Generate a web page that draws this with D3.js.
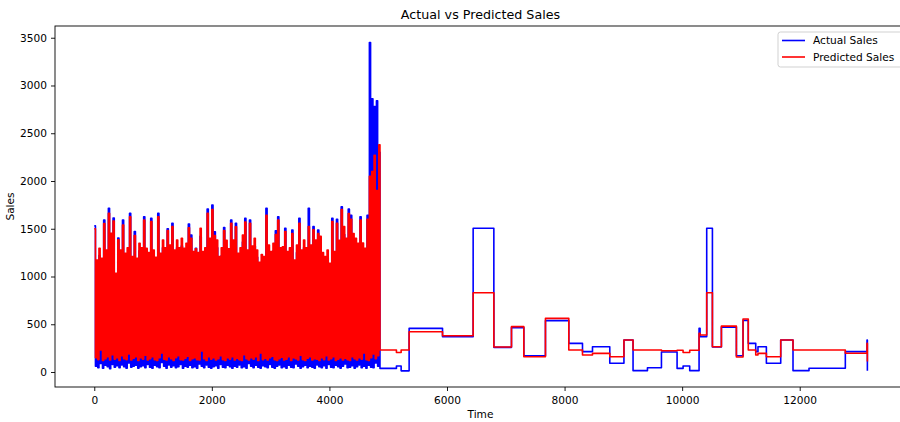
<!DOCTYPE html>
<html lang="en">
<head>
	<meta charset="UTF-8"/>
	<title>Actual vs Predicted Sales</title>
	<script src="https://d3js.org/d3.v7.min.js"></script>
	<style>
		body { margin: 0; background: #fff; }
		svg { display: block; font-family: "DejaVu Sans", sans-serif; }
	</style>
</head>
<body>
<script>
	var w = 900;
	var h = 422;
	var axLeft = 55, axTop = 26, axRight = 906, axBottom = 387;

	// daily part (0 - 4860): values are read as peak / trough per 40-day bin
	var binDays = 40;
	var predHigh = [
		1500,1173,1295,1190,1555,1277,1662,1452,1580,1033,
		1385,1277,1540,1243,1300,1626,1208,1430,1190,1347,
		1300,1590,1295,1250,1575,1277,1200,1626,1243,1382,
		1300,1480,1329,1522,1277,1382,1300,1400,1295,1347,
		1510,1400,1260,1290,1250,1504,1260,1300,1662,1400,
		1700,1430,1382,1208,1300,1480,1380,1290,1557,1382,
		1520,1243,1300,1434,1570,1277,1557,1320,1400,1277,
		1150,1230,1208,1640,1330,1260,1347,1440,1590,1300,
		1310,1470,1260,1300,1450,1173,1330,1557,1277,1382,
		1300,1522,1330,1490,1382,1450,1420,1250,1208,1277,
		1138,1575,1260,1557,1380,1700,1522,1400,1660,1600,
		1450,1400,1347,1590,1350,1295,1600,2050,2100,2270,
		1900,2380
	];
	var actualHigh = [
		1530,1100,1220,1120,1592,1200,1714,1380,1612,960,
		1403,1200,1592,1170,1230,1662,1130,1470,1110,1270,
		1220,1626,1220,1170,1610,1200,1120,1662,1170,1300,
		1220,1500,1250,1557,1200,1300,1220,1320,1220,1270,
		1550,1434,1180,1295,1170,1420,1180,1220,1707,1320,
		1749,1469,1300,1130,1220,1513,1300,1210,1592,1300,
		1557,1160,1220,1360,1610,1200,1592,1240,1320,1200,
		1070,1150,1130,1714,1250,1180,1270,1478,1626,1220,
		1230,1504,1180,1220,1487,1100,1250,1610,1200,1300,
		1220,1714,1250,1522,1300,1487,1340,1170,1130,1200,
		1060,1610,1180,1600,1300,1731,1440,1320,1705,1640,
		1370,1320,1270,1626,1270,1220,1640,3450,2860,2780,
		2840,2300
	];
	var predLow = [
		150,130,230,120,140,160,125,180,135,150,
		120,170,140,130,190,125,145,160,120,150,
		135,175,125,140,160,130,120,150,200,135,
		125,160,140,120,150,170,130,125,145,165,
		120,140,150,130,125,220,140,120,160,135,
		150,125,140,170,130,120,150,135,160,125,
		145,130,120,180,140,125,150,135,160,120,
		200,130,145,125,150,165,130,120,140,155,
		125,135,160,120,150,140,125,175,130,120,
		145,160,125,140,135,120,150,130,170,125,
		140,160,120,135,150,125,145,130,120,160,
		140,125,150,135,200,130,120,150,190,140,
		170,230
	];
	var actualLow = [
		60,45,90,40,70,55,35,80,50,65,
		45,75,55,40,95,50,60,70,40,55,
		65,45,80,50,40,70,55,45,100,60,
		40,75,50,65,45,55,80,40,60,50,
		70,45,55,40,85,60,45,75,50,40,
		55,65,40,80,50,45,70,55,40,60,
		50,75,45,55,40,90,60,45,70,50,
		40,65,55,45,80,50,40,60,75,45,
		55,40,70,50,45,85,60,40,55,70,
		45,60,50,40,75,55,45,65,40,80,
		50,45,70,55,40,60,85,45,50,65,
		40,55,75,45,60,40,70,50,45,95,
		60,50
	];

	// flat part: value holds from each time until the next one
	var stepTimes  = [4860,5140,5220,5356,5924,6445,6797,7097,7307,7675,8072,8305,8475,8769,9010,9165,9410,9648,9914,10016,10129,10288,10305,10418,10515,10668,10923,11036,11125,11252,11290,11433,11677,11886,12158,12776,13145,13151];
	var stepActual = [38,63,12,457,370,1505,258,465,170,538,300,213,265,91,335,14,45,210,38,63,14,457,370,1505,262,470,170,541,300,213,265,91,335,14,40,213,335,14];
	var stepPred   = [230,205,230,422,380,830,262,475,160,562,230,178,195,160,335,230,230,222,228,205,228,405,387,830,265,480,157,555,230,178,195,160,335,230,230,196,300,110];

	var xTicks = [0, 2000, 4000, 6000, 8000, 10000, 12000];
	var yTicks = [0, 500, 1000, 1500, 2000, 2500, 3000, 3500];

	var xScale = d3.scaleLinear().domain([-668, 13808]).range([axLeft, axRight]);
	var yScale = d3.scaleLinear().domain([-157, 3623]).range([axBottom, axTop]);

	var svg = d3.select("body")
		.append("svg")
		.attr("width", w)
		.attr("height", h);

	function densePoints(highs, lows) {
		var pts = [];
		for (var i = 0; i < highs.length; i++) {
			pts.push([i * binDays, highs[i]]);
			pts.push([i * binDays + binDays / 2, lows[i]]);
		}
		return pts;
	}

	function stepPoints(values) {
		return stepTimes.map(function(t, i) { return [t, values[i]]; });
	}

	var stepLine = d3.line()
		.curve(d3.curveStepAfter)
		.x(function(d) { return xScale(d[0]); })
		.y(function(d) { return yScale(d[1]); });

	var series = [
		{ name: "Actual Sales", color: "#0000ff", dense: densePoints(actualHigh, actualLow), step: stepPoints(stepActual) },
		{ name: "Predicted Sales", color: "#ff0000", dense: densePoints(predHigh, predLow), step: stepPoints(stepPred) }
	];

	series.forEach(function(s) {
		svg.append("path")
			.attr("d", stepLine(s.dense.concat(s.step)))
			.attr("fill", "none")
			.attr("stroke", s.color)
			.attr("stroke-width", 1.6)
			.attr("stroke-linejoin", "round");
	});

	// axes
	var xAxis = svg.append("g")
		.attr("transform", "translate(0," + axBottom + ")")
		.call(d3.axisBottom(xScale).tickValues(xTicks).tickSize(4).tickPadding(5.5).tickFormat(d3.format("d")));
	var yAxis = svg.append("g")
		.attr("transform", "translate(" + axLeft + ",0)")
		.call(d3.axisLeft(yScale).tickValues(yTicks).tickSize(4).tickPadding(4).tickFormat(d3.format("d")));

	[xAxis, yAxis].forEach(function(a) {
		a.select(".domain").remove();
		a.selectAll("line").attr("stroke", "#000").attr("stroke-width", 0.9);
		a.selectAll("text").attr("fill", "#000").style("font-size", "10.6px").style("font-family", "DejaVu Sans");
	});

	// spines
	svg.append("rect")
		.attr("x", axLeft)
		.attr("y", axTop)
		.attr("width", axRight - axLeft)
		.attr("height", axBottom - axTop)
		.attr("fill", "none")
		.attr("stroke", "#000")
		.attr("stroke-width", 0.9);

	// titles
	svg.append("text")
		.attr("x", (axLeft + axRight) / 2)
		.attr("y", 19)
		.attr("text-anchor", "middle")
		.style("font-size", "12.7px")
		.text("Actual vs Predicted Sales");

	svg.append("text")
		.attr("x", (axLeft + axRight) / 2)
		.attr("y", 418)
		.attr("text-anchor", "middle")
		.style("font-size", "10.6px")
		.text("Time");

	svg.append("text")
		.attr("transform", "translate(14," + ((axTop + axBottom) / 2) + ") rotate(-90)")
		.attr("text-anchor", "middle")
		.style("font-size", "10.6px")
		.text("Sales");

	// legend
	var legend = svg.append("g").attr("transform", "translate(778,32)");
	legend.append("rect")
		.attr("width", 124)
		.attr("height", 35)
		.attr("rx", 2.5)
		.attr("fill", "#fff")
		.attr("fill-opacity", 0.8)
		.attr("stroke", "#cccccc")
		.attr("stroke-width", 0.9);

	legend.selectAll(".item")
		.data(series)
		.enter()
		.append("g")
		.attr("transform", function(d, i) { return "translate(0," + (8.5 + i * 16.5) + ")"; })
		.each(function(d) {
			var g = d3.select(this);
			g.append("line")
				.attr("x1", 4).attr("x2", 27)
				.attr("stroke", d.color)
				.attr("stroke-width", 1.6);
			g.append("text")
				.attr("x", 35)
				.attr("y", 3.8)
				.style("font-size", "10.6px")
				.text(d.name);
		});
</script>
</body>
</html>
